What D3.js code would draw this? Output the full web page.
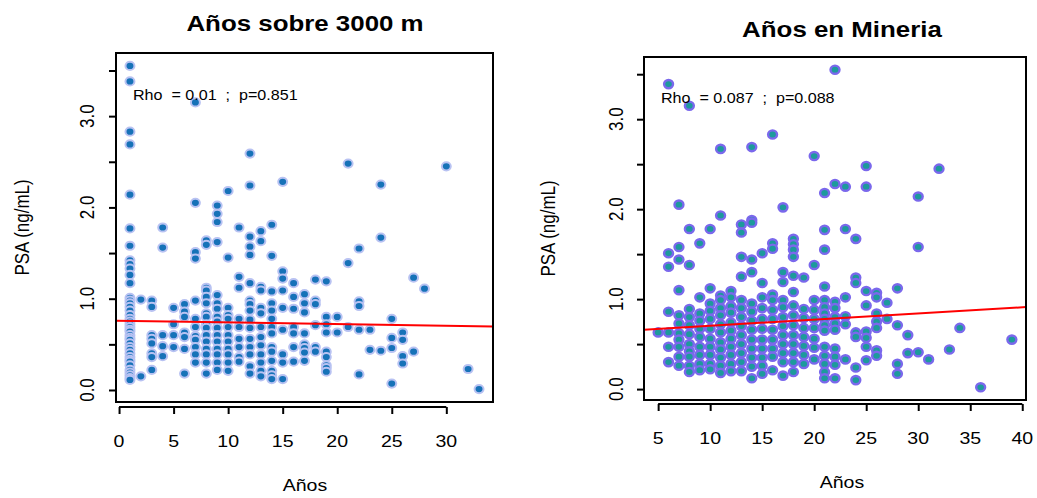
<!DOCTYPE html>
<html>
<head>
<meta charset="utf-8">
<script src="https://cdn.jsdelivr.net/npm/d3@7"></script>
<style>
  html, body { margin: 0; padding: 0; background: #fff; }
  svg text { font-family: "Liberation Sans", Arial, Helvetica, sans-serif; fill: #000; white-space: pre; }
</style>
</head>
<body>
<svg id="chart" width="1037" height="498"></svg>
<script>
// ---- Panel 1: years living above 3000 m vs PSA ----
// Each entry: [years, list of PSA values observed at that year]
const altitudeYears = [1,2,3,4,5,6,7,8,9,10,11,12,13,14,15,16,17,18,19,20,21,22,23,24,25,26,27,28,30,32,33];
const altitudePSA = [
  [3.55,3.38,2.83,2.69,2.14,1.77,1.58,1.42,1.38,1.33,1.26,1.17,1.01,0.98,0.95,0.91,0.87,0.82,0.78,0.75,0.72,0.69,0.66,0.64,0.60,0.57,0.55,0.51,0.47,0.44,0.40,0.36,0.33,0.31,0.27,0.22,0.19,0.16,0.13,0.11],
  [0.99,0.15],
  [0.98,0.91,0.60,0.56,0.51,0.40,0.36,0.22],
  [1.78,1.56,0.60,0.48,0.37],
  [0.90,0.72,0.60,0.47],
  [0.94,0.86,0.80,0.63,0.58,0.45,0.18],
  [3.15,2.05,1.51,1.44,0.98,0.78,0.69,0.59,0.55,0.47,0.39,0.30],
  [1.64,1.59,1.12,1.09,1.02,0.95,0.84,0.80,0.72,0.68,0.60,0.53,0.45,0.39,0.30,0.18],
  [2.02,1.93,1.84,1.62,1.04,0.95,0.89,0.80,0.75,0.68,0.60,0.53,0.45,0.39,0.30,0.22],
  [2.18,1.45,0.90,0.82,0.78,0.69,0.60,0.53,0.45,0.39,0.30,0.21],
  [1.78,1.24,1.12,0.78,0.69,0.56,0.47,0.36,0.31],
  [2.59,2.24,1.68,1.57,1.48,1.17,0.98,0.94,0.87,0.77,0.68,0.56,0.47,0.39,0.26,0.18],
  [1.74,1.63,1.13,1.09,0.90,0.84,0.69,0.58,0.49,0.39,0.30,0.21,0.15],
  [1.81,1.47,1.08,0.95,0.87,0.78,0.69,0.62,0.47,0.42,0.32,0.21,0.16,0.12],
  [2.28,1.30,1.22,1.09,0.90,0.66,0.39,0.30,0.12],
  [1.17,1.02,0.89,0.69,0.62,0.47,0.31],
  [1.05,0.95,0.85,0.62,0.50,0.46,0.41,0.32],
  [1.21,0.98,0.94,0.71,0.47,0.42],
  [1.19,0.80,0.72,0.63,0.42,0.36,0.27,0.24,0.20],
  [0.80,0.63],
  [2.48,1.39,0.69],
  [1.55,0.97,0.92,0.66,0.17],
  [0.66,0.44],
  [2.25,1.67,0.43],
  [0.78,0.57,0.46,0.07],
  [0.63,0.55,0.37,0.29],
  [1.23,0.42],
  [1.11],
  [2.45],
  [0.23],
  [0.01]
];
const altitudeFit = [0.7575, -0.00177];   // intercept, slope
const altitudeStats = "Rho  = 0.01  ;  p=0.851";

// ---- Panel 2: years working in mining vs PSA ----
const miningYears = [5,6,7,8,9,10,11,12,13,14,15,16,17,18,19,20,21,22,23,24,25,26,27,28,29,30,31,32,33,34,36,39];
const miningPSA = [
  [0.63],
  [3.39,1.51,1.36,0.86,0.63,0.47,0.30],
  [2.05,1.58,1.44,1.10,0.82,0.73,0.62,0.55,0.47,0.36,0.26],
  [3.15,1.78,1.38,0.89,0.80,0.71,0.61,0.50,0.42,0.36,0.26,0.19],
  [1.62,1.02,0.84,0.76,0.67,0.58,0.47,0.38,0.28,0.21],
  [1.78,1.12,0.95,0.87,0.78,0.67,0.56,0.47,0.38,0.28,0.22],
  [2.67,1.93,1.04,0.99,0.90,0.82,0.72,0.63,0.52,0.44,0.35,0.26,0.18],
  [1.09,1.02,0.92,0.85,0.74,0.65,0.56,0.47,0.38,0.28,0.20],
  [1.83,1.74,1.47,1.25,0.99,0.90,0.80,0.70,0.60,0.50,0.40,0.30,0.20],
  [2.69,1.88,1.85,1.44,1.30,0.95,0.86,0.76,0.66,0.55,0.45,0.35,0.25,0.12],
  [1.51,1.18,1.02,0.90,0.78,0.67,0.55,0.45,0.35,0.26,0.17],
  [2.83,1.62,1.56,1.05,0.99,0.88,0.78,0.66,0.55,0.45,0.36,0.21],
  [2.02,1.30,1.19,0.99,0.91,0.80,0.70,0.60,0.50,0.40,0.30,0.15],
  [1.67,1.61,1.55,1.47,1.26,1.08,0.93,0.82,0.71,0.60,0.50,0.40,0.30,0.19],
  [1.24,0.89,0.79,0.68,0.58,0.48,0.38,0.28],
  [2.59,1.38,0.99,0.88,0.78,0.68,0.56,0.46,0.33],
  [2.18,1.77,1.55,1.14,0.99,0.91,0.84,0.78,0.71,0.65,0.47,0.37,0.28,0.19,0.12],
  [3.55,2.28,0.97,0.90,0.80,0.73,0.66,0.45,0.36,0.27,0.12],
  [2.25,1.78,1.02,0.81,0.72,0.33],
  [1.67,1.24,1.18,0.63,0.58,0.24,0.10],
  [2.48,2.25,1.09,0.93,0.64,0.57,0.47,0.32],
  [1.07,1.02,0.84,0.75,0.68,0.43,0.37],
  [0.96,0.78],
  [1.12,0.71,0.28,0.17],
  [0.60,0.40],
  [2.14,1.58,0.41],
  [0.33],
  [2.45],
  [0.44],
  [0.68],
  [0.02],
  [0.55]
];
const miningFit = [0.636, 0.00684];   // intercept, slope
const miningStats = "Rho  = 0.087  ;  p=0.088";

const yTickValues = [0, 0.5, 1, 1.5, 2, 2.5, 3, 3.5];
const yTickLabels = ["0.0", "", "1.0", "", "2.0", "", "3.0", ""];
const altitudeXTicks = [0, 5, 10, 15, 20, 25, 30];
const miningXTicks = [5, 10, 15, 20, 25, 30, 35, 40];

// ---- drawing ----
const svg = d3.select("#chart");
const SX = 1.15;  // horizontal glyph stretch

function label(parent, x, y, str, size, opts = {}) {
  const t = parent.append("text")
    .attr("transform", `translate(${x},${y}) scale(${SX},1)` + (opts.rotate ? " rotate(-90)" : ""))
    .attr("text-anchor", opts.anchor || "middle")
    .attr("font-size", size)
    .attr("font-weight", opts.bold ? "bold" : "normal")
    .text(str);
  return t;
}

// R-style range: data extent widened by 4% on both sides
function padded(ext) {
  const d = (ext[1] - ext[0]) * 0.04;
  return [ext[0] - d, ext[1] + d];
}

function panel(cfg) {
  const pts = [];
  cfg.years.forEach((yr, i) => cfg.psa[i].forEach(v => pts.push([yr, v])));

  const x = d3.scaleLinear().domain(padded(d3.extent(pts, d => d[0]))).range([cfg.box.x0, cfg.box.x1]);
  const y = d3.scaleLinear().domain(padded(d3.extent(pts, d => d[1]))).range([cfg.box.y1, cfg.box.y0]);

  const g = svg.append("g");
  const clipId = "clip-" + cfg.id;
  g.append("clipPath").attr("id", clipId).append("rect")
    .attr("x", cfg.box.x0).attr("y", cfg.box.y0)
    .attr("width", cfg.box.x1 - cfg.box.x0).attr("height", cfg.box.y1 - cfg.box.y0);

  // points
  g.append("g").selectAll("ellipse").data(pts).join("ellipse")
    .attr("cx", d => x(d[0])).attr("cy", d => y(d[1]))
    .attr("rx", 4.1 * SX * 0.95).attr("ry", 4.1)
    .attr("fill", cfg.fill).attr("stroke", cfg.stroke).attr("stroke-width", cfg.strokeW);

  // fitted line across the plot region
  const [x0, x1] = x.domain();
  g.append("line")
    .attr("clip-path", `url(#${clipId})`)
    .attr("x1", x(x0)).attr("y1", y(cfg.fit[0] + cfg.fit[1] * x0))
    .attr("x2", x(x1)).attr("y2", y(cfg.fit[0] + cfg.fit[1] * x1))
    .attr("stroke", "#ff0000").attr("stroke-width", 2);

  // box
  g.append("rect")
    .attr("x", cfg.box.x0).attr("y", cfg.box.y0)
    .attr("width", cfg.box.x1 - cfg.box.x0).attr("height", cfg.box.y1 - cfg.box.y0)
    .attr("fill", "none").attr("stroke", "#000").attr("stroke-width", 2);

  // x axis
  const xAxis = d3.axisBottom(x).tickValues(cfg.xTicks).tickSize(cfg.tickLen).tickFormat("");
  const gx = g.append("g").attr("transform", `translate(0,${cfg.box.y1 + cfg.xAxisGap})`).call(xAxis);
  gx.select(".domain").attr("stroke-width", 2).attr("d", `M${x(cfg.xTicks[0])},0H${x(cfg.xTicks[cfg.xTicks.length - 1])}`);
  gx.selectAll(".tick line").attr("stroke-width", 2);
  cfg.xTicks.forEach(v => label(g, x(v), cfg.xLabelY, String(v), 17));

  // y axis
  const yAxis = d3.axisLeft(y).tickValues(yTickValues).tickSize(cfg.tickLen).tickFormat("");
  const gy = g.append("g").attr("transform", `translate(${cfg.box.x0},0)`).call(yAxis);
  gy.select(".domain").attr("stroke-width", 2).attr("d", `M0,${y(yTickValues[0])}V${y(yTickValues[yTickValues.length - 1])}`);
  gy.selectAll(".tick line").attr("stroke-width", 2);
  yTickValues.forEach((v, i) => {
    if (yTickLabels[i]) label(g, cfg.yLabelX, y(v), yTickLabels[i], 17, { rotate: true });
  });

  // texts
  label(g, cfg.statsX, cfg.statsY, cfg.stats, 14, { anchor: "start" });
  label(g, cfg.titleX, cfg.titleY, cfg.title, 22.5, { bold: true });
  label(g, cfg.titleX, cfg.xTitleY, "Años", 17);
  label(g, cfg.yTitleX, (cfg.box.y0 + cfg.box.y1) / 2, "PSA (ng/mL)", 17, { rotate: true });
}

panel({
  id: "alt", years: altitudeYears, psa: altitudePSA, fit: altitudeFit, stats: altitudeStats,
  title: "Años sobre 3000 m",
  box: { x0: 116, x1: 493, y0: 53, y1: 402 },
  fill: "#1672b8", stroke: "#b8c2f2", strokeW: 2,
  xTicks: altitudeXTicks, tickLen: 7, xAxisGap: 5,
  xLabelY: 447, yLabelX: 94, statsX: 133, statsY: 100,
  titleX: 305, titleY: 31, xTitleY: 491, yTitleX: 29
});

panel({
  id: "min", years: miningYears, psa: miningPSA, fit: miningFit, stats: miningStats,
  title: "Años en Mineria",
  box: { x0: 644, x1: 1026, y0: 57, y1: 400 },
  fill: "#1d9a9c", stroke: "#7a68ec", strokeW: 2.4,
  xTicks: miningXTicks, tickLen: 7, xAxisGap: 4,
  xLabelY: 444, yLabelX: 623, statsX: 661, statsY: 103,
  titleX: 842, titleY: 37, xTitleY: 488, yTitleX: 555
});
</script>
</body>
</html>
